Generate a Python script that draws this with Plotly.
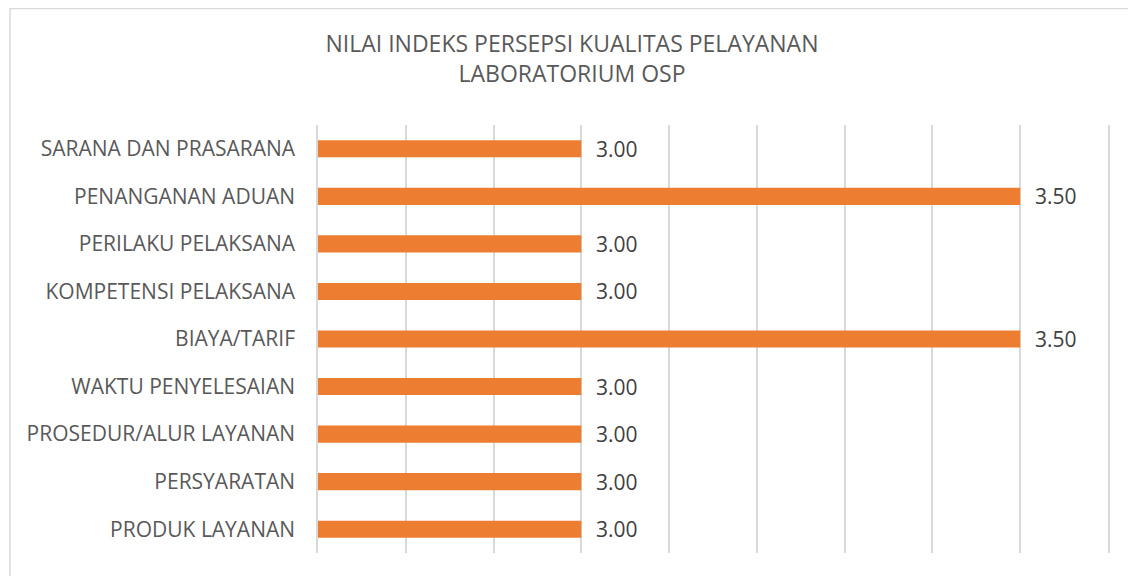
import plotly.graph_objects as go

categories = [
    "PRODUK LAYANAN",
    "PERSYARATAN",
    "PROSEDUR/ALUR LAYANAN",
    "WAKTU PENYELESAIAN",
    "BIAYA/TARIF",
    "KOMPETENSI PELAKSANA",
    "PERILAKU PELAKSANA",
    "PENANGANAN ADUAN",
    "SARANA DAN PRASARANA",
]
values = [3.00, 3.00, 3.00, 3.00, 3.50, 3.00, 3.00, 3.50, 3.00]
title_text = "NILAI INDEKS PERSEPSI KUALITAS PELAYANAN<br>LABORATORIUM OSP"

FONT = "Open Sans"
TXT = "#595959"
GRID = "#d9d9d9"
x_min, x_max, x_step = 2.7, 3.6, 0.1

fig = go.Figure()
fig.add_trace(go.Bar(
    x=values, y=categories, orientation="h",
    marker=dict(color="#ED7D31", line=dict(width=0)),
    hoverinfo="x+y",
))

annotations = [
    dict(x=v, y=c, xref="x", yref="y", text=f"{v:.2f}", showarrow=False,
         xanchor="left", xshift=13, font=dict(family=FONT, size=21, color="#404040"))
    for c, v in zip(categories, values)
]

# page body has an 8px margin, so the figure is sized to fit the window
W, H = 1128, 568
ml, mr, mt, mb = 310, 28, 117, 23
pw, ph = W - ml - mr, H - mt - mb

def px_to_paper_x(px):
    return (px - ml) / pw

def px_to_paper_y(py):
    return (H - mb - py) / ph

fig.update_layout(
    width=W, height=H,
    margin=dict(l=ml, r=mr, t=mt, b=mb),
    paper_bgcolor="white", plot_bgcolor="white",
    bargap=0.64,
    showlegend=False,
    title=dict(text=title_text, x=0.5, xref="container", xanchor="center",
               y=1 - 44 / H, yref="container", yanchor="top",
               font=dict(family=FONT, size=23, color=TXT)),
    font=dict(family=FONT, color=TXT),
    annotations=annotations,
    shapes=[dict(type="rect", xref="paper", yref="paper",
                 x0=px_to_paper_x(2), x1=px_to_paper_x(1127),
                 y0=px_to_paper_y(590), y1=px_to_paper_y(0.5),
                 line=dict(color=GRID, width=1.5), layer="below")],
)
fig.update_xaxes(range=[x_min, x_max], dtick=x_step, tick0=x_min,
                 showgrid=True, gridcolor=GRID, gridwidth=1.5,
                 showticklabels=False, zeroline=False, showline=False, fixedrange=True)
fig.update_yaxes(categoryorder="array", categoryarray=categories,
                 showgrid=False, showline=True, mirror=True,
                 linecolor=GRID, linewidth=1.5,
                 ticks="", ticklabelstandoff=17,
                 tickfont=dict(family=FONT, size=21, color=TXT), fixedrange=True)

fig.write_html("out.html")
